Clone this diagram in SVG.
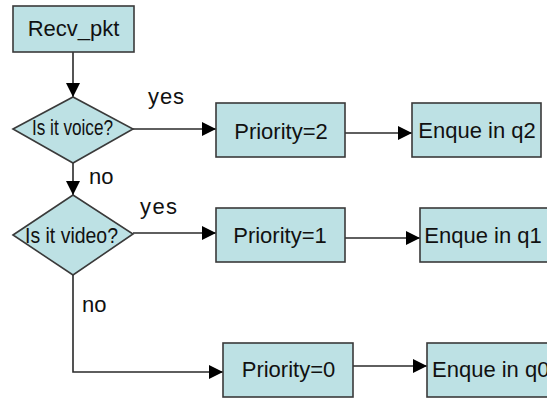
<svg xmlns="http://www.w3.org/2000/svg" width="547" height="398" viewBox="0 0 547 398">
  <style>
    .box { fill: #bde1e4; stroke: #3a3a3a; stroke-width: 1.6; }
    .lbl { font-family: "Liberation Sans", Arial, sans-serif; font-size: 22px; fill: #111; }
    .mid { text-anchor: middle; }
    .edge { fill: none; stroke: #2a2a2a; stroke-width: 1.6; }
  </style>
  <defs>
    <marker id="arrow" markerUnits="userSpaceOnUse" markerWidth="14" markerHeight="14" viewBox="0 0 14 14" refX="14" refY="7" orient="auto">
      <path d="M0,0 L14,7 L0,14 Z" fill="#000"/>
    </marker>
  </defs>
  <rect width="547" height="398" fill="#fff"/>

  <!-- connectors -->
  <g id="connectors">
    <path class="edge" d="M73,52 V97" marker-end="url(#arrow)"/>
    <path class="edge" d="M133,129 H216" marker-end="url(#arrow)"/>
    <path class="edge" d="M345,133 H412" marker-end="url(#arrow)"/>
    <path class="edge" d="M73,163 V195" marker-end="url(#arrow)"/>
    <path class="edge" d="M133,233 H216" marker-end="url(#arrow)"/>
    <path class="edge" d="M345,238 H420" marker-end="url(#arrow)"/>
    <path class="edge" d="M73,275 V372 H223" marker-end="url(#arrow)"/>
    <path class="edge" d="M353,366 H427" marker-end="url(#arrow)"/>
    <text class="lbl" x="148" y="104" font-size="20" textLength="36">yes</text>
    <text class="lbl" x="89" y="184" font-size="21">no</text>
    <text class="lbl" x="140" y="214" font-size="20" textLength="37">yes</text>
    <text class="lbl" x="82" y="312" font-size="21">no</text>
  </g>

  <g id="recv_pkt">
    <rect class="box" x="13" y="6" width="121" height="46"/>
    <text class="lbl mid" x="73.5" y="36">Recv_pkt</text>
  </g>

  <g id="is_voice">
    <polygon class="box" points="13,129 73,97 133,129 73,163"/>
    <text class="lbl mid" x="72.5" y="135" font-size="16" textLength="81" lengthAdjust="spacingAndGlyphs">Is it voice?</text>
  </g>

  <g id="is_video">
    <polygon class="box" points="13,235 73,195 133,234 73,275"/>
    <text class="lbl mid" x="71.5" y="243" font-size="20" textLength="93" lengthAdjust="spacingAndGlyphs">Is it video?</text>
  </g>

  <g id="priority2">
    <rect class="box" x="216" y="103" width="129" height="54"/>
    <text class="lbl mid" x="281" y="139">Priority=2</text>
  </g>

  <g id="enque_q2">
    <rect class="box" x="412" y="103" width="129" height="54"/>
    <text class="lbl mid" x="477" y="138">Enque in q2</text>
  </g>

  <g id="priority1">
    <rect class="box" x="216" y="208" width="129" height="54"/>
    <text class="lbl mid" x="280" y="243">Priority=1</text>
  </g>

  <g id="enque_q1">
    <rect class="box" x="420" y="208" width="132" height="54"/>
    <text class="lbl mid" x="483" y="243">Enque in q1</text>
  </g>

  <g id="priority0">
    <rect class="box" x="223" y="343" width="130" height="54"/>
    <text class="lbl mid" x="288.5" y="377">Priority=0</text>
  </g>

  <g id="enque_q0">
    <rect class="box" x="427" y="343" width="130" height="54"/>
    <text class="lbl" x="432" y="377">Enque in q0</text>
  </g>
</svg>
